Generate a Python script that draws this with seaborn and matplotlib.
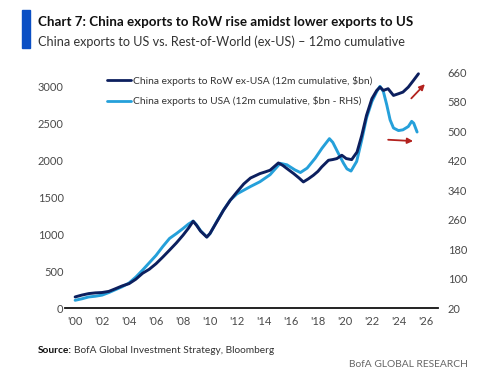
import matplotlib
matplotlib.use("Agg")
import matplotlib.pyplot as plt
import seaborn as sns
import pandas as pd
from matplotlib.lines import Line2D
from matplotlib.patches import Rectangle

# ---- data ----
years_row = [2000, 2000.5, 2001, 2001.5, 2002, 2002.5, 2003, 2003.5, 2004, 2004.5,
             2005, 2005.5, 2006, 2006.5, 2007, 2007.5, 2008, 2008.4, 2008.75, 2009.0,
             2009.3, 2009.76, 2010.0, 2010.5, 2011, 2011.5, 2012, 2012.5, 2013, 2013.7,
             2014.08, 2014.45, 2015.07, 2015.4, 2015.7, 2016.2, 2016.6, 2016.92, 2017.3, 2017.66,
             2018.0, 2018.28, 2018.78, 2019.1, 2019.4, 2019.77, 2020.1, 2020.5, 2020.9, 2021.25,
             2021.6, 2022.0, 2022.36, 2022.6, 2022.85, 2023.2, 2023.6, 2023.97, 2024.3, 2024.7,
             2025.08, 2025.45]
row_vals = [150, 175, 195, 205, 210, 225, 262, 300, 330, 390,
            470, 525, 600, 690, 784, 880, 986, 1080, 1175, 1120,
            1040, 960, 1010, 1166, 1324, 1459, 1572, 1680, 1760, 1820,
            1842, 1865, 1964, 1930, 1888, 1820, 1760, 1707, 1750, 1797,
            1850, 1910, 2000, 2010, 2023, 2068, 2023, 2009, 2112, 2338,
            2608, 2834, 2946, 2991, 2946, 2969, 2878, 2901, 2923, 2991,
            3081, 3171]

years_us = [2000, 2000.5, 2001, 2001.5, 2002, 2002.5, 2003, 2003.5, 2004, 2004.5,
            2005, 2005.5, 2006, 2006.5, 2007, 2007.5, 2008, 2008.4, 2008.75, 2009.0,
            2009.3, 2009.76, 2010.0, 2010.5, 2011, 2011.5, 2012, 2012.5, 2013, 2013.7,
            2014.45, 2015.2, 2015.7, 2016.3, 2016.7, 2017.2, 2017.8, 2018.3, 2018.85, 2019.1,
            2019.5, 2019.9, 2020.15, 2020.45, 2020.87, 2021.25, 2021.6, 2022.0, 2022.36, 2022.6,
            2022.85, 2023.1, 2023.35, 2023.6, 2023.97, 2024.3, 2024.7, 2024.95, 2025.1, 2025.35]
us_vals = [41, 45, 50, 52, 55, 62, 70, 78, 88, 104,
           123, 143, 163, 187, 209, 222, 236, 248, 256, 246,
           230, 213, 222, 255, 286, 313, 330, 340, 350, 363,
           382, 413, 409, 395, 388, 400, 427, 454, 480, 470,
           441, 413, 398, 392, 418, 477, 536, 581, 608, 622,
           608, 572, 531, 509, 502, 504, 513, 527, 522, 498]

left_ticks = [0, 500, 1000, 1500, 2000, 2500, 3000]
right_ticks = [20, 100, 180, 260, 340, 420, 500, 580, 660]
x_ticks = list(range(2000, 2027, 2))
x_labels = ["'" + str(y)[2:] for y in x_ticks]

row_label = "China exports to RoW ex-USA (12m cumulative, \\$bn)"
us_label = "China exports to USA (12m cumulative, \\$bn - RHS)"

title = "Chart 7: China exports to RoW rise amidst lower exports to US"
subtitle = "China exports to US vs. Rest-of-World (ex-US) \u2013 12mo cumulative"

# ---- style ----
sns.set_theme(style="white")
plt.rcParams['font.family'] = ['Lato', 'DejaVu Sans']

DARK = "#0c1f5e"
LIGHT = "#25a0da"
RED = "#b3221e"
GRAY = "#4a4a4a"

fig = plt.figure(figsize=(5.0, 3.79), dpi=100)
ax = fig.add_axes([0.13, 0.1873, 0.746, 0.6217])
ax2 = ax.twinx()

df_row = pd.DataFrame({"year": years_row, "val": row_vals})
df_us = pd.DataFrame({"year": years_us, "val": us_vals})

sns.lineplot(data=df_us, x="year", y="val", ax=ax2, color=LIGHT, lw=2.1, legend=False)
sns.lineplot(data=df_row, x="year", y="val", ax=ax, color=DARK, lw=2.1, legend=False)
ax.set_zorder(ax2.get_zorder() + 1)
ax.patch.set_visible(False)

ax.set_xlim(1999.25, 2026.9)
ax.set_ylim(0, 3190)
ax2.set_ylim(20, 660)

ax.set_xticks(x_ticks)
ax.set_xticklabels(x_labels)
ax.set_yticks(left_ticks)
ax2.set_yticks(right_ticks)
ax.set_xlabel("")
ax.set_ylabel("")
ax2.set_ylabel("")

for a in (ax, ax2):
    for s in ("top", "left", "right", "bottom"):
        a.spines[s].set_visible(False)
    a.tick_params(length=0, labelsize=8, colors=GRAY)
    a.grid(False)
ax.spines["bottom"].set_visible(True)
ax.spines["bottom"].set_color("#111111")
ax.spines["bottom"].set_linewidth(1.3)
ax.tick_params(axis="x", pad=6)
ax.tick_params(axis="y", pad=1)
ax2.tick_params(axis="y", pad=7)

# arrows
ax.annotate("", xy=(2026.07, 3058), xytext=(2024.78, 2811),
            arrowprops=dict(arrowstyle="-|>", color=RED, lw=1.3, mutation_scale=8))
ax.annotate("", xy=(2025.26, 2258), xytext=(2023.0, 2280),
            arrowprops=dict(arrowstyle="-|>", color=RED, lw=1.3, mutation_scale=8))

handles = [Line2D([0], [0], color=DARK, lw=2.0), Line2D([0], [0], color=LIGHT, lw=2.0)]
leg = ax.legend(handles, [row_label, us_label], loc="upper left",
                bbox_to_anchor=(0.112, 0.985), frameon=False, fontsize=7.4,
                handlelength=2.4, handletextpad=0.15, labelspacing=1.0, borderpad=0,
                borderaxespad=0)
for t in leg.get_texts():
    t.set_color("#333333")

# titles
fig.patches.append(Rectangle((0.043, 0.873), 0.017, 0.101, transform=fig.transFigure,
                             color="#0a4fc4", zorder=3))
fig.text(0.076, 0.943, title, fontsize=9.6, fontweight="bold", color="#111111",
         va="center", ha="left")
fig.text(0.076, 0.890, subtitle, fontsize=9.1, color="#333333", va="center", ha="left")

src = fig.text(0.076, 0.0765, "Source:", fontsize=7.3, fontweight="bold", color="#111111",
               va="center", ha="left")
fig.canvas.draw()
bb = src.get_window_extent(renderer=fig.canvas.get_renderer())
x_after = bb.x1 / fig.bbox.width + 0.004
fig.text(x_after, 0.0765, "BofA Global Investment Strategy, Bloomberg", fontsize=7.3,
         color="#333333", va="center", ha="left")
fig.text(0.935, 0.037, "BofA GLOBAL RESEARCH", fontsize=7.4, color="#666666",
         va="center", ha="right")

fig.savefig("out.png", dpi=100)
